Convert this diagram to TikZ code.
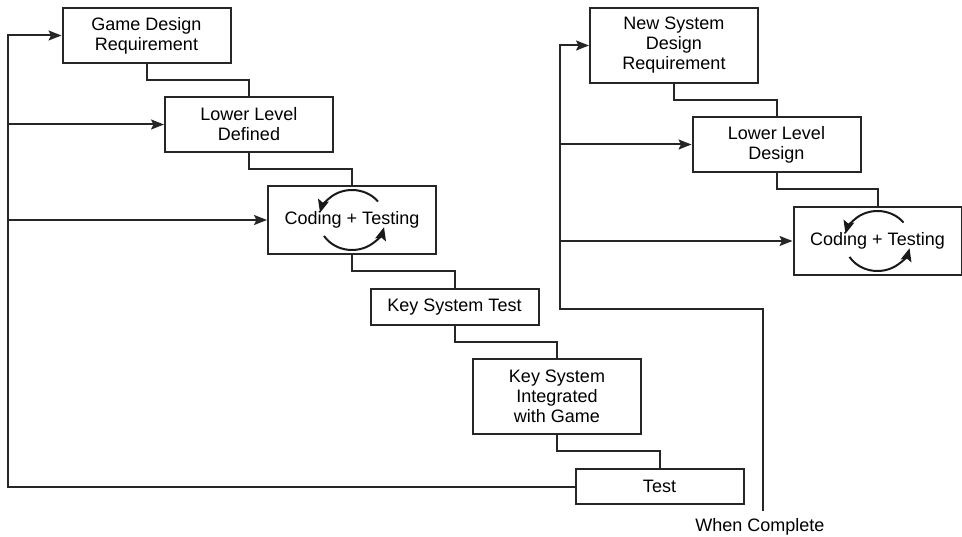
\documentclass[tikz,border=0pt]{standalone}
\usepackage{fontspec}
\setmainfont{Liberation Sans}
\usetikzlibrary{arrows.meta,calc}
\begin{document}
\begin{tikzpicture}[x=1pt,y=1pt,
  box/.style={draw=black!85,line width=2pt,minimum width=168pt,inner sep=0pt,align=center,
    font=\fontsize{18}{20}\selectfont},
  link/.style={draw=black!85,line width=2pt},
  arr/.style={draw=black!85,line width=2pt,-{Stealth[length=13pt,width=10pt,inset=2.5pt]}},
  cyc/.style={draw=black!90,line width=2pt,-{Stealth[length=13pt,width=11pt,inset=2.5pt]}},
  lbl/.style={inner sep=0pt,font=\fontsize{18}{20}\selectfont}
]
\useasboundingbox (0,0) rectangle (962,-537);

% left column
\node[box,minimum height=55pt] (gdr) at (146.5,-35.5) {Game Design\\Requirement};
\node[box,minimum height=55pt] (lld) at (249,-124.5) {Lower Level\\Defined};
\node[box,minimum height=68pt] (ct1) at (352,-220) {Coding + Testing};
\node[box,minimum height=36pt] (kst) at (454.5,-307) {Key System Test};
\node[box,minimum height=75pt] (ksi) at (557,-396.5) {Key System\\Integrated\\with Game};
\node[box,minimum height=35pt] (tst) at (659.5,-486.5) {Test};

% right column
\node[box,minimum height=75pt] (nsd) at (674,-45.5) {New System\\Design\\Requirement};
\node[box,minimum height=55pt] (ll2) at (776.5,-144.5) {Lower Level\\Design};
\node[box,minimum height=68pt] (ct2) at (877.5,-241) {Coding + Testing};

\node[lbl] (wc) at (760,-527) {When Complete};

% step connectors
\foreach \a/\b in {gdr/lld,lld/ct1,ct1/kst,kst/ksi,ksi/tst,nsd/ll2,ll2/ct2}{
  \draw[link] (\a.south) |- ($(\a.south)!.5!(\b.north)$) -| (\b.north);
}

% left feedback loop
\coordinate (ltop) at (8,-35.5);
\draw[arr] (tst.west) -| (ltop) -- (gdr.west);
\draw[arr] (lld.west -| ltop) -- (lld.west);
\draw[arr] (ct1.west -| ltop) -- (ct1.west);

% right loop
\coordinate (rb) at (560,-309);
\draw[arr] ([yshift=7pt]wc.north -| 763,0) |- (rb) |- (nsd.west);
\draw[arr] (ll2.west -| rb) -- (ll2.west);
\draw[arr] (ct2.west -| rb) -- (ct2.west);

% cycle arrows
\foreach \c in {ct1,ct2}{
  \draw[cyc] ($(\c)+(38:33 and 30)$) arc[start angle=38,end angle=166,x radius=33,y radius=30];
  \draw[cyc] ($(\c)+(212:33 and 30)$) arc[start angle=212,end angle=346,x radius=33,y radius=30];
}
\end{tikzpicture}
\end{document}
